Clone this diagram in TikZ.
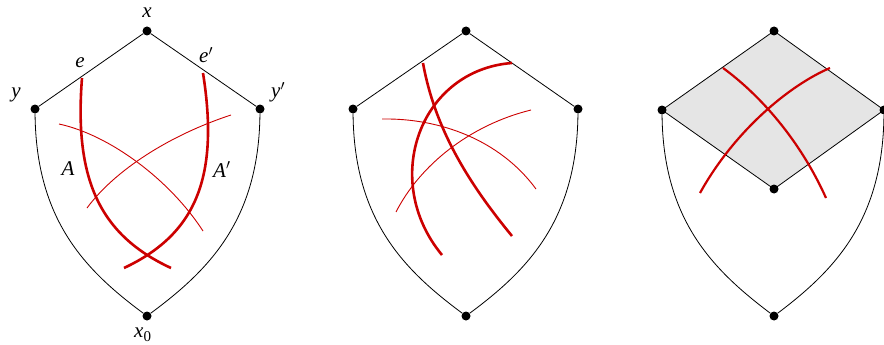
\documentclass[tikz,border=0pt]{standalone}
\usepackage{fontspec}
\setmainfont{Liberation Serif}
\definecolor{myred}{RGB}{204,0,0}
\begin{document}
\begin{tikzpicture}[x=1pt,y=-1pt,
  dot/.style={circle,fill=black,inner sep=0pt,minimum size=9pt},
  edgeline/.style={draw=black,line width=0.8pt},
  thickred/.style={draw=myred,line width=2.6pt},
  thinred/.style={draw=myred,line width=0.9pt},
  lbl/.style={font=\fontsize{21}{24}\selectfont\itshape,inner sep=0pt}]
\useasboundingbox (0,0) rectangle (884,345);
% ---------- panel 1 ----------
\node[dot] (x1) at (147,31) {};
\node[dot] (yl1) at (35,109) {};
\node[dot] (yr1) at (260,109) {};
\node[dot] (b1) at (147,316) {};
\draw[edgeline] (yl1) -- (x1) -- (yr1);
\draw[edgeline] (yl1) .. controls (36,220) and (85,270) .. (b1);
\draw[edgeline] (yr1) .. controls (259,220) and (209,270) .. (b1);
\coordinate (a1s) at (82,78); \coordinate (a1e) at (171,268);
\coordinate (a2s) at (203,73); \coordinate (a2e) at (124,268);
\coordinate (t1s) at (59,124); \coordinate (t1e) at (203,231);
\coordinate (t2s) at (231,115); \coordinate (t2e) at (87,208);
\draw[thinred] (t1s) .. controls (110,135) and (170,180) .. (t1e);
\draw[thinred] (t2s) .. controls (170,135) and (115,170) .. (t2e);
\draw[thickred] (a1s) .. controls (74,180) and (100,235) .. (a1e);
\draw[thickred] (a2s) .. controls (220,180) and (194,235) .. (a2e);
\node[lbl,anchor=base] (lx) at (147,18) {x};
\node[lbl,anchor=base] (le) at (80,68) {e};
\node[lbl,anchor=base west] (lep) at (199,63) {e$'$};
\node[lbl,anchor=base] (ly) at (16,97) {y};
\node[lbl,anchor=base west] (lyp) at (271,98) {y$'$};
\node[lbl,anchor=base] (lA) at (68,175) {A};
\node[lbl,anchor=base west] (lAp) at (213,177) {A$'$};
\node[lbl,anchor=base west] (lx0) at (134,337) {x\raisebox{-4pt}{\upshape\fontsize{15}{15}\selectfont 0}};
% ---------- panel 2 ----------
\node[dot] (x2) at (466,31) {};
\node[dot] (yl2) at (353,109) {};
\node[dot] (yr2) at (578,109) {};
\node[dot] (b2) at (466,316) {};
\draw[edgeline] (yl2) -- (x2) -- (yr2);
\draw[edgeline] (yl2) .. controls (354,220) and (404,270) .. (b2);
\draw[edgeline] (yr2) .. controls (577,220) and (528,270) .. (b2);
\coordinate (c1s) at (512,63); \coordinate (c1e) at (442,255);
\coordinate (c2s) at (423,63); \coordinate (c2e) at (512,236);
\coordinate (c3s) at (382,119); \coordinate (c3e) at (536,189);
\coordinate (c4s) at (531,110); \coordinate (c4e) at (396,212);
\draw[thinred] (c3s) .. controls (440,118) and (500,140) .. (c3e);
\draw[thinred] (c4s) .. controls (470,125) and (420,165) .. (c4e);
\draw[thickred] (c1s) .. controls (420,70) and (380,180) .. (c1e);
\draw[thickred] (c2s) .. controls (435,130) and (470,185) .. (c2e);
% ---------- panel 3 ----------
\coordinate (x3) at (774,31);
\coordinate (yl3) at (662,110);
\coordinate (yr3) at (884,110);
\coordinate (m3) at (774,189);
\fill[black!10] (x3) -- (yr3) -- (m3) -- (yl3) -- cycle;
\draw[edgeline] (x3) -- (yr3) -- (m3) -- (yl3) -- cycle;
\node[dot] (x3d) at (x3) {};
\node[dot] (yl3d) at (yl3) {};
\node[dot] (yr3d) at (yr3) {};
\node[dot] (m3d) at (m3) {};
\node[dot] (b3) at (774,316) {};
\draw[edgeline] (yl3d) .. controls (663,220) and (713,270) .. (b3);
\draw[edgeline] (yr3d) .. controls (883,220) and (835,270) .. (b3);
\coordinate (d1s) at (723,68); \coordinate (d1e) at (826,198);
\coordinate (d2s) at (830,68); \coordinate (d2e) at (700,193);
\draw[thickred,line width=2.2pt] (d1s) .. controls (760,95) and (800,140) .. (d1e);
\draw[thickred,line width=2.2pt] (d2s) .. controls (790,85) and (735,130) .. (d2e);
\end{tikzpicture}
\end{document}
